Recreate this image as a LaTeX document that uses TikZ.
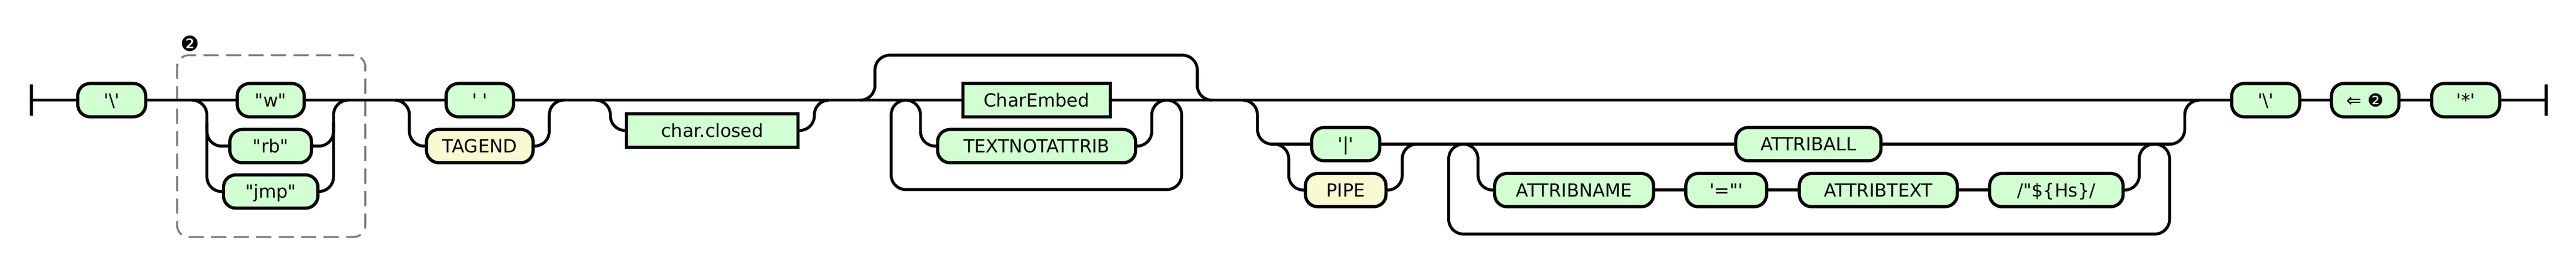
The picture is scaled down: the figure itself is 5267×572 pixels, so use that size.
\documentclass[tikz,border=0pt]{standalone}
\usepackage{fontspec}
\newfontfamily\rrfont{DejaVu Sans}
\definecolor{termfill}{HTML}{D2FFD2}
\definecolor{tokfill}{HTML}{FAFAD2}
\definecolor{grpgray}{HTML}{808080}
\tikzset{
  rr/.style={line width=6pt, rounded corners=30pt},
  rrbox/.style={draw, line width=6.5pt, fill=termfill, minimum height=68pt, inner sep=0pt, outer sep=0pt,
    font=\rrfont\fontsize{37}{44}\selectfont, text height=27pt, text depth=0pt},
  term/.style={rrbox, rounded corners=25pt},
  tok/.style={term, fill=tokfill},
  nonterm/.style={rrbox, rounded corners=0pt},
  grp/.style={draw=grpgray, line width=4pt, dash pattern=on 31pt off 15pt, rounded corners=24pt, inner sep=0pt},
  badge/.style={font=\rrfont\fontsize{43}{50}\selectfont, inner sep=0pt},
  bar/.style={line width=6pt},
}
\begin{document}
\begin{tikzpicture}[x=1pt,y=-1pt]
\useasboundingbox (0,0) rectangle (5267,572);
% group box and label
\node[grp, minimum width=385pt, minimum height=372pt] (grp) at (554.5,299) {};
\node[badge] (lbl) at (389,89) {❷};
% nodes
\node[term, minimum width=139pt] (b1) at (228.5,205) {'\textbackslash'};
\node[term, minimum width=137pt] (w) at (553.5,205) {"w"};
\node[term, minimum width=167pt] (rb) at (553.5,299) {"rb"};
\node[term, minimum width=193pt] (jmp) at (553.5,392) {"jmp"};
\node[term, minimum width=138pt] (sp) at (981,205) {' '};
\node[tok, minimum width=218pt] (tagend) at (981,299) {TAGEND};
\node[nonterm, minimum width=351pt] (cc) at (1456.5,267) {char.closed};
\node[nonterm, minimum width=301pt] (ce) at (2119.5,205) {CharEmbed};
\node[term, minimum width=405pt] (tna) at (2119.5,299) {TEXTNOTATTRIB};
\node[term, minimum width=139pt] (pipeq) at (2751.5,295) {'|'};
\node[tok, minimum width=165pt] (pipe) at (2751.5,389) {PIPE};
\node[term, minimum width=297pt] (aall) at (3697.5,295) {ATTRIBALL};
\node[term, minimum width=325pt] (aname) at (3218.5,389) {ATTRIBNAME};
\node[term, minimum width=165pt] (eq) at (3529.5,389) {'="'};
\node[term, minimum width=323pt] (atext) at (3840.5,389) {ATTRIBTEXT};
\node[term, minimum width=273pt] (hs) at (4204.5,389) {/"\$\{Hs\}/};
\node[term, minimum width=139pt] (b17) at (4632.5,205) {'\textbackslash'};
\node[term, minimum width=138pt] (back) at (4836,205) {⇐ ❷};
\node[term, minimum width=139pt] (star) at (5041.5,205) {'*'};
% junction coordinates
\coordinate (st) at (64,205);
\coordinate (en) at (5206,205);
\coordinate (c1a) at (393,205);  \coordinate (c1v) at (423,205);
\coordinate (c1w) at (682,205);  \coordinate (c1b) at (712,205);
\coordinate (c2a) at (807,205);  \coordinate (c2v) at (837,205);
\coordinate (c2w) at (1123,205); \coordinate (c2b) at (1153,205);
\coordinate (c3a) at (1218,205); \coordinate (c3v) at (1248,205);
\coordinate (c3w) at (1665,205); \coordinate (c3b) at (1695,205);
\coordinate (t1a) at (1759,205); \coordinate (t1v) at (1789,205);
\coordinate (t1w) at (2448,113); \coordinate (t1b) at (2478,205);
\coordinate (l1a) at (2386,205); \coordinate (l1r) at (2416,205);
\coordinate (l1q) at (1822,388); \coordinate (l1b) at (1852,205);
\coordinate (ic1a) at (1852,205); \coordinate (ic1v) at (1882,205);
\coordinate (ic1w) at (2355,205); \coordinate (ic1b) at (2385,205);
\coordinate (o2a) at (2541,205); \coordinate (o2v) at (2571,205);
\coordinate (o2w) at (4467,205); \coordinate (o2b) at (4497,205);
\coordinate (p1a) at (2605,295); \coordinate (p1v) at (2635,295);
\coordinate (p1w) at (2867,295); \coordinate (p1b) at (2897,295);
\coordinate (l2a) at (4406,295); \coordinate (l2r) at (4436,295);
\coordinate (l2q) at (2962,479); \coordinate (l2b) at (2992,295);
\coordinate (ic2a) at (2992,295); \coordinate (ic2v) at (3022,295);
\coordinate (ic2w) at (4374,295); \coordinate (ic2b) at (4404,295);
% bars
\draw[bar] (st) ++(0,-32) -- ++(0,64);
\draw[bar] (en) ++(0,-32) -- ++(0,64);
% main line
\draw[rr] (st) -- (b1.west);
\draw[rr] (b1.east) -- (w.west);
\draw[rr] (w.east) -- (sp.west);
\draw[rr] (sp.east) -- (ce.west);
\draw[rr] (ce.east) -- (b17.west);
\draw[rr] (b17.east) -- (back.west);
\draw[rr] (back.east) -- (star.west);
\draw[rr] (star.east) -- (en);
% choice w / rb / jmp
\draw[rr] (c1a) -- (c1v) |- (jmp.west);
\draw[rr] (c1v) ++(0,45) |- (rb.west);
\draw[rr] (jmp.east) -| (c1w) -- (c1b);
\draw[rr] (c1w) ++(0,45) |- (rb.east);
% choice ' ' / TAGEND
\draw[rr] (c2a) -- (c2v) |- (tagend.west);
\draw[rr] (tagend.east) -| (c2w) -- (c2b);
% optional char.closed
\draw[rr] (c3a) -- (c3v) |- (cc.west);
\draw[rr] (cc.east) -| (c3w) -- (c3b);
% top bypass
\draw[rr] (t1a) -- (t1v) |- (t1w) |- (t1b);
% loop around CharEmbed / TEXTNOTATTRIB
\draw[rr] (l1a) -- (l1r) |- (l1q) |- (l1b);
\draw[rr] (ic1a) -- (ic1v) |- (tna.west);
\draw[rr] (tna.east) -| (ic1w) -- (ic1b);
% optional lower part
\draw[rr] (o2a) -- (o2v) |- (pipeq.west);
\draw[rr] (p1a) -- (p1v) |- (pipe.west);
\draw[rr] (pipe.east) -| (p1w) -- (p1b);
\draw[rr] (pipeq.east) -- (aall.west);
\draw[rr] (aall.east) -| (o2w) -- (o2b);
% loop of attributes
\draw[rr] (l2a) -- (l2r) |- (l2q) |- (l2b);
\draw[rr] (ic2a) -- (ic2v) |- (aname.west);
\draw[rr] (aname.east) -- (eq.west);
\draw[rr] (eq.east) -- (atext.west);
\draw[rr] (atext.east) -- (hs.west);
\draw[rr] (hs.east) -| (ic2w) -- (ic2b);
\end{tikzpicture}
\end{document}
